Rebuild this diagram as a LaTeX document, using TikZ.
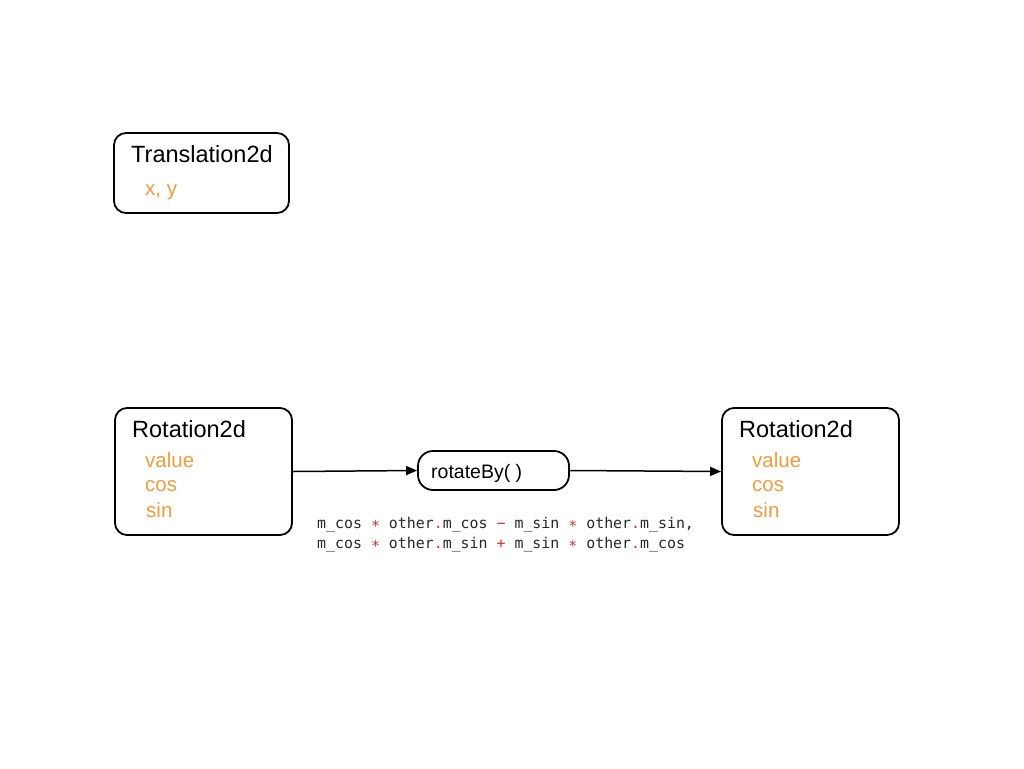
\documentclass[tikz,border=0pt]{standalone}
\usepackage{fontspec}
\setmainfont{Liberation Sans}
\setmonofont{DejaVu Sans Mono}
\usetikzlibrary{arrows.meta}
\definecolor{fieldorange}{RGB}{242,155,60}
\definecolor{opred}{RGB}{212,50,60}
\definecolor{codegray}{RGB}{40,40,40}
\newcommand{\opr}[1]{\textcolor{opred}{#1}}
\tikzset{
  classbox/.style={draw=black, line width=1.8pt, rounded corners=12pt},
  funcbox/.style={draw=black, line width=1.8pt, rounded corners=15pt},
  title/.style={anchor=base west, inner sep=0pt, font=\fontsize{23.5}{28}\selectfont},
  field/.style={anchor=base west, inner sep=0pt, text=fieldorange, font=\fontsize{20.5}{24}\selectfont},
  code/.style={anchor=base west, inner sep=0pt, text=codegray, font=\ttfamily\fontsize{14.9}{20}\selectfont},
  flow/.style={line width=1.5pt, -{Triangle[length=11pt,width=9pt]}}
}
\begin{document}
\begin{tikzpicture}[x=1pt,y=-1pt]
\useasboundingbox (0,0) rectangle (1024,768);
% Translation2d
\node[classbox, minimum width=175pt, minimum height=80pt] (trans) at (201.5,173) {};
\node[title] (transT) at (131,162) {Translation2d};
\node[field] (transF) at (145,195) {x, y};
% Left Rotation2d
\node[classbox, minimum width=177pt, minimum height=127pt] (rotL) at (203.5,471.5) {};
\node[title] (rotLT) at (132,437) {Rotation2d};
\node[field] (rotLv) at (145,467) {value};
\node[field] (rotLc) at (145,491) {cos};
\node[field] (rotLs) at (146,517) {sin};
% rotateBy
\node[funcbox, minimum width=151pt, minimum height=39pt] (rot) at (493.5,470.5) {};
\node[anchor=base west, inner sep=0pt, font=\fontsize{19.5}{22}\selectfont] (rotT) at (431,478) {rotateBy( )};
% Right Rotation2d
\node[classbox, minimum width=177pt, minimum height=127pt] (rotR) at (810.5,471.5) {};
\node[title] (rotRT) at (739,437) {Rotation2d};
\node[field] (rotRv) at (752,467) {value};
\node[field] (rotRc) at (752,491) {cos};
\node[field] (rotRs) at (753,517) {sin};
% code
\node[code] (code1) at (317,528) {m\_cos \opr{∗} other\opr{.}m\_cos \opr{−} m\_sin \opr{∗} other\opr{.}m\_sin,};
\node[code] (code2) at (317,548) {m\_cos \opr{∗} other\opr{.}m\_sin \opr{+} m\_sin \opr{∗} other\opr{.}m\_cos};
% arrows
\draw[flow] (rotL.east) -- (rot.west);
\draw[flow] (rot.east) -- (rotR.west);
\end{tikzpicture}
\end{document}
